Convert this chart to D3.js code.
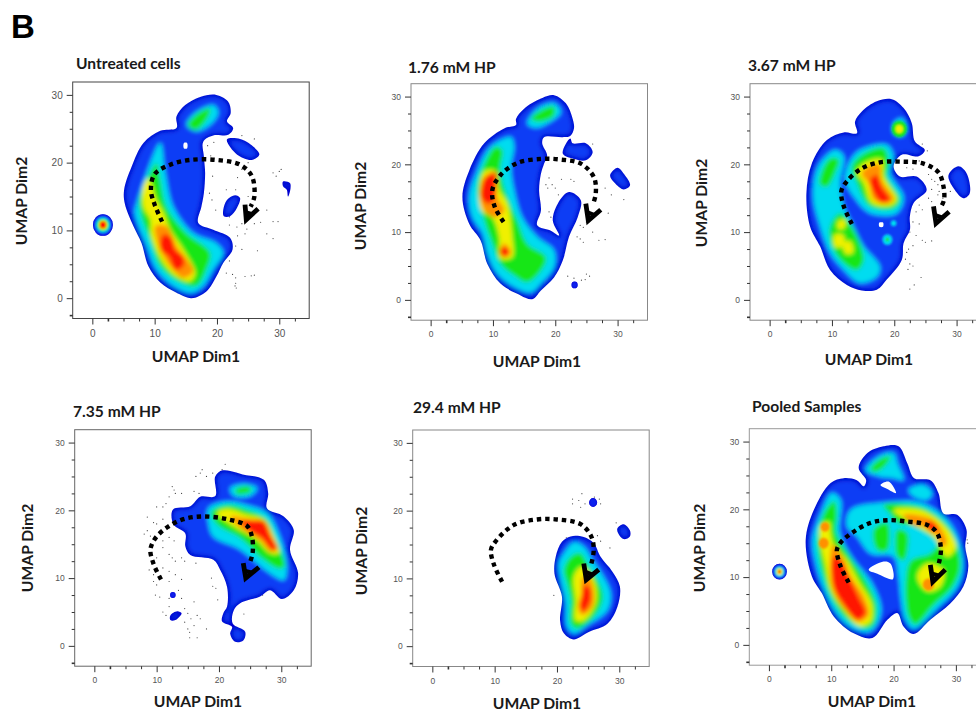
<!DOCTYPE html>
<html>
<head>
<meta charset="utf-8">
<title>UMAP density panels</title>
<style>
html, body { margin: 0; padding: 0; background: #fff; overflow: hidden; }
svg { display: block; }
</style>
<script src="https://d3js.org/d3.v7.min.js"></script>
</head>
<body>
<script>

// density outlines per panel, in UMAP units
const untreatedOuter = [
  [[13.5,26.8],[14.9,28.5],[17.3,29.7],[19.9,30],[21.8,29],[22.2,27.3],[21.6,26.1],[22.6,25.1],[21.8,24.1],[19.4,24],[17.8,23.1],[17.9,20.9],[18.1,18.5],[17.9,15.5],[17.5,13.5],[17,11.1],[19.4,10.1],[22.1,8.9],[22.5,7.2],[21,5.2],[19.9,3.2],[18.3,1],[15.9,0],[13.5,0.8],[10.9,2.3],[9,4.7],[7.9,8.1],[6.6,10.6],[5.2,14],[5.1,16],[6.3,19.4],[8.2,22.9],[10.9,24.7],[13.5,25.1]],
  [[21.6,23.4],[23.7,23.5],[25.8,22.4],[26.8,21.2],[25.6,20.4],[23.2,21.2]],
  [[21,13],[21.6,14.5],[22.9,15.2],[23.7,14.8],[23.2,13.3],[22.1,12.1],[21.1,12.1]],
  [[30.6,17.2],[31.7,17],[31.8,16.2],[31.4,15],[31.2,16],[30.6,16.5]]
];
const untreatedCyan = [
  [[7.1,14],[8.7,18.5],[10.9,22.9],[11.7,18.5],[13,13.5],[16.2,9.6],[19.9,8.1],[21,6.7],[19.4,4.2],[17.8,1.8],[15.9,0.8],[13,1.8],[10.3,4.2],[8.7,7.7],[6.8,12.6]],
  [[15.1,25.6],[16.7,27.5],[19.4,28.5],[20.2,27.5],[19.4,26],[16.7,24.6]]
];
const untreatedGreen = [
  [[7.6,14.5],[9.3,18.5],[10.3,19.9],[10.9,17.5],[11.9,13.5],[15.1,9.6],[18.9,6.7],[18.3,4.2],[16.7,1.8],[14.1,2.3],[10.9,4.7],[9.3,8.6],[7.9,12]],
  [[15.4,25.6],[17.3,27.5],[18.9,28],[18.3,26.3],[16.5,24.8]]
];
const untreatedYellow = [
  [[8.2,16.5],[9,17.7],[10.3,14.5],[11.4,12.6],[12.5,10.1],[14.6,7.2],[16.5,3.7],[15.7,2.5],[13.5,3.2],[11.4,5.2],[9.5,9.1],[9.3,11.6],[8.2,13.5]]
];
const untreatedOrange = [
  [[10.1,10.6],[11.9,10.6],[13.5,7.7],[16.2,4],[14.6,3],[12.5,4.7],[10.9,7.2]]
];
const untreatedRed = [
  [[11.4,9.4],[12.7,8.9],[13.3,7.2],[14.6,6.2],[14.6,4.7],[13.3,4.2],[12.2,6.2],[10.9,7.2]]
];
const untreatedSpots = [[0,1.7,10.8,1.6],[1,1.7,10.8,1.15],[2,1.7,10.8,0.9],[3,1.7,10.8,0.7],[5,1.7,10.8,0.5]];
const untreatedHoles = [[[14.7,22.9],[15.2,22.9],[15.2,22.1],[14.7,22.1]]];
const untreatedArc = [[11.2,11.3],[10,13.8],[9.4,16],[10,18.3],[12.5,19.7],[15.7,20.4],[19.9,20.4],[23.7,19.7],[25.6,18],[26,15],[25.4,13.5]];
const untreatedArrow = [[24.5,13.8],[24.7,11.6],[26.6,13.2]];
const untreatedDots = [[18.5,22.5],[19,21],[19.5,23],[24,24],[26,23.5],[25,20],[24,19],[23.3,17.8],[19.3,18],[18.8,15.5],[19.2,14.5],[19.8,13],[21.5,16],[23,16],[25,15],[22,12],[24,11],[27,11.2],[26,11],[28,13],[29,11.3],[22,10.8],[23.2,10.5],[24.8,10.2],[23.3,9.2],[24.5,9.5],[28,9.5],[29,8.8],[23,7.7],[24,7.2],[26.5,7],[22,5.5],[21.5,3.7],[22.5,3.5],[23,3],[24.5,3.2],[25.5,3.3],[26,3.4],[23,2.2],[22.9,1.8],[23.1,1.5],[29,18.5],[29.5,18],[30,18.7],[30.3,19],[29.8,11.3]];

const hp176Outer = [
  [[13.7,26.7],[15,28.2],[17.7,29.7],[19.8,30.2],[21.7,29],[22.8,26.7],[23,25.3],[22.4,24.2],[21.2,24],[18.2,24],[17.9,23.1],[18.7,21.3],[18.2,20.1],[17.7,18.6],[17.4,16.2],[17.7,13.2],[17.1,11],[19.3,10.2],[20.6,9.5],[19.6,11.7],[20.4,14.2],[22.2,15.9],[24.1,14.7],[23.6,12.2],[22.2,9.3],[21.2,5.8],[19.8,3.3],[17.7,1.4],[16.3,0.1],[13.9,0.9],[11.2,2.4],[9.1,5.3],[8,8.8],[6.2,11.2],[5.1,15.2],[6.2,19.1],[8.6,23.1],[11.8,25.3],[13.7,25.8]],
  [[21.2,21.6],[22.4,23.8],[22.8,23.1],[24.9,23.1],[26,21.8],[24.9,20.6],[23,20.8]],
  [[28.8,18.4],[30,19.5],[31,18.6],[32,16.9],[31,16.3],[29.7,17.1]]
];
const hp176Cyan = [
  [[6.2,15.2],[7.5,19.1],[9.6,22.6],[12.9,24],[13.4,22.6],[12.9,19.6],[13.4,16.2],[14.7,12.2],[17.1,9.3],[19.8,7.3],[19.8,4.8],[17.7,2.4],[16.1,1.1],[13.4,1.9],[10.7,3.8],[9.1,6.8],[8.3,9.8],[6.7,12.2]],
  [[15.5,26],[17.1,28.2],[19.8,29],[20.9,27.7],[18.7,26],[16.9,25.4]]
];
const hp176Green = [
  [[7.5,16.6],[8.6,20.1],[10.4,22.6],[11.5,22.1],[11.2,19.1],[12.3,15.2],[13.9,11.7],[15.5,8.3],[18.5,6.3],[17.7,4.3],[15.5,2.6],[13.4,3.6],[11.2,5.3],[9.9,8.3],[8.6,11.7]],
  [[16.1,26.7],[17.7,28],[19.8,28.5],[19.8,27.2],[17.7,26.3]]
];
const hp176Yellow = [
  [[7.8,15.7],[8.6,18.9],[10.2,19.1],[11,16.2],[12.3,14.2],[13.1,9.3],[13.1,6.3],[11.2,6.1],[11,9.3],[9.9,12.2],[8.2,13.2]]
];
const hp176Orange = [
  [[8,15.7],[8.6,18.1],[10.5,18.9],[10.7,15.2],[11.8,13.2],[10.4,12.2],[8.6,13.2]],
  [[11,7],[11.8,8.3],[12.9,7],[12,6.3]]
];
const hp176Red = [
  [[8,15.7],[8.8,18.1],[10.2,18.6],[10.3,15.2],[9.6,14.2],[8.3,14.7]],
  [[11.2,7.3],[12,7.8],[12.6,7],[11.8,6.3]]
];
const hp176Spots = [[0,23.1,2.2,0.5]];
const hp176Holes = [];
const hp176Arc = [[11.7,11.5],[10.3,13.7],[9.9,16.2],[11.2,18.4],[13.9,20.2],[17.7,20.8],[20.9,20.7],[24.1,20.1],[26.2,18.1],[26.5,15.7],[26,14]];
const hp176Arrow = [[24.9,14.2],[25.3,11.7],[27.3,13.3]];
const hp176Dots = [[19,18],[19.5,17],[18.5,17],[20,16.5],[20.5,15.5],[21,17.8],[22.5,17.8],[23,17.5],[18.8,16.5],[25,11.5],[24,11],[24.5,10.7],[23.5,9.3],[24,9],[24.5,8.5],[27,8.8],[28,8.9],[26,10],[28.5,12.8],[29,15.5],[31,14.8],[22,3.5],[23,3.2],[25,3.8],[24.8,3],[25.5,3.5],[24.2,2.9],[19,13],[19.3,12.2],[26,23],[25,19.5],[28,16.5]];

const hp367Outer = [
  [[13.7,26.3],[14.8,27.8],[17.2,29.3],[19.6,29.6],[21.5,28.3],[22.8,26.1],[23.3,23.4],[24.9,22.1],[23.9,21.2],[21.2,21.4],[19.9,19.7],[20.9,18.2],[23.6,18.2],[25.2,16.2],[23.1,14.3],[22.5,12.3],[22.5,10.3],[21.5,8.4],[21.2,5.9],[18.8,3],[17.2,1.5],[14.8,1.4],[12.4,2.2],[9.7,4.4],[8.1,7.9],[6.5,10.8],[5.9,15.7],[6.8,20.2],[9.2,23.6],[11.9,24.7],[14,24.6]],
  [[28.7,18.4],[30.3,19.7],[31.6,18.7],[32.1,15.7],[31.1,15],[29.5,16.5]]
];
const hp367Cyan = [
  [[7,15.2],[7.8,19.7],[10.5,22.1],[11.9,21.2],[11.3,17.2],[11.9,13.8],[13.5,10.8],[15.1,7.9],[17.7,4.9],[17.2,3.4],[14.5,2.5],[11.9,4.4],[9.7,6.9],[8.1,10.8]],
  [[12.7,20.2],[14.5,22.1],[18.8,22.9],[19.9,21.2],[19.3,18.7],[21.5,15.2],[20.4,12.8],[16.1,12.8],[13.5,15.2],[12.1,17.7]],
  [[19.9,26.1],[21.2,26.8],[22,25.3],[21.2,24.1],[19.9,24.6]]
];
const hp367Green = [
  [[8.1,18.2],[9.7,20.9],[11.1,20.7],[10.5,18.7],[9.2,16.7],[8.1,17]],
  [[9.7,10.8],[11.3,12.8],[13.5,10.3],[15.1,5.9],[14,4.4],[11.9,5.4],[10,7.9]],
  [[13.2,19.7],[15.1,21.6],[18.3,22.4],[19.1,20.2],[18.8,18.2],[20.9,14.8],[19.9,13.5],[16.1,13.8],[14,17.2]]
];
const hp367Yellow = [
  [[14,18.9],[15.6,20.4],[18,20.7],[18.3,18.2],[20.4,14.8],[19.3,13.9],[16.4,14.3],[15.1,17.2]],
  [[10.4,9.6],[11.8,9.6],[11.9,8],[10.5,7.8]],
  [[11,11.6],[12.1,11.8],[12,10.6],[11,10.4]],
  [[11.8,8.4],[13,8.6],[13.4,7],[12.2,6.8]]
];
const hp367Orange = [
  [[14.8,18.7],[16.4,19.9],[17.7,19.9],[18,17.7],[19.9,14.8],[18.8,14.2],[16.7,14.8],[15.9,17.2]]
];
const hp367Red = [
  [[16.1,17.7],[17.2,18.4],[18,16.7],[19.3,14.8],[18,14.3],[16.9,15.5]]
];
const hp367Spots = [[1,18.9,8.9,0.8],[2,18.9,8.9,0.3],[1,19.9,11.3,0.45],[2,20.8,25.2,1.2],[3,20.8,25.2,0.6]];
const hp367Holes = [[[17.6,11.4],[18.2,11.4],[18.2,10.8],[17.6,10.8]]];
const hp367Arc = [[13.2,11.2],[11.9,13.8],[11.5,16],[12.4,17.5],[14.8,19.4],[17.7,20.3],[20.9,20.4],[24.7,20.1],[27.1,18.8],[27.9,16.7],[28,14.8],[27.6,13.9]];
const hp367Arrow = [[26.3,13.8],[26.7,11.3],[28.8,13]];
const hp367Dots = [[24.5,23],[25.3,22],[24,20.5],[22,19.5],[23,19.3],[25.5,18.5],[26,17.8],[26.5,17.5],[27,17],[26,16.3],[27,15.5],[25.5,15],[26,14.5],[24,14],[24.5,13.3],[23.5,13],[23,11.5],[24,11.2],[22.5,10],[23.5,9.5],[24.5,8.8],[25,8.5],[26,8.7],[23,8],[22.3,7.5],[22,7],[21.8,6],[22.5,5.3],[23,5],[22.2,4.5],[24.3,3.3],[23.2,2.2],[22.5,1.6],[27.2,16],[27.8,15],[28,14.5],[29,16]];

const hp735Outer = [
  [[12.6,20.1],[15.4,20.6],[17,22],[19.4,22.1],[19.4,25],[20.6,25.9],[23.8,25.3],[27.2,24.5],[27.9,22.5],[27.7,20.3],[30.4,19.1],[32,17.1],[31.4,14.2],[32.7,10.7],[32,8.2],[30.1,6.9],[28.2,8.2],[26.6,7.3],[23.4,6.3],[22.4,5.3],[22.2,3.3],[24.2,2.1],[23.9,0.8],[22.6,0.6],[21.8,1.8],[22.1,2.8],[20.5,3.6],[20.7,4.8],[21.3,5.8],[21.3,8.7],[20.2,11.2],[19.1,12.7],[15.4,13.4],[14.6,14.7],[14.6,16.6],[12.7,17.9]],
  [[12.2,4.5],[13.3,5.1],[14,4.8],[13,3.8],[12.2,3.8]]
];
const hp735Cyan = [
  [[18.3,20.3],[21.3,21.3],[24.5,20.8],[27.7,19.6],[29.6,16.6],[30.9,11.7],[30.4,9.7],[27.7,11],[23.4,14.2],[19.1,16.1],[18.3,18.1]],
  [[21.8,23.3],[24,23.9],[26.1,23.3],[25,22.1],[22.4,22.1]]
];
const hp735Green = [
  [[18.8,19.8],[21.3,20.8],[24.5,20.1],[27.5,18.8],[29,16.1],[30.5,11.7],[29.6,11.4],[27.2,12.7],[23.4,15.9],[19.7,17.9]],
  [[22.6,23.1],[24.8,23.5],[25.2,22.8],[22.9,22.4]]
];
const hp735Yellow = [
  [[19.7,19.6],[21.3,20.2],[24.5,19.3],[27.2,18.6],[28.8,16.1],[29.6,13.7],[28.2,13.7],[26.1,15.6],[22.4,17.6]]
];
const hp735Orange = [
  [[21.8,19.1],[24.5,18.8],[27.2,18.4],[28.5,16.1],[29.4,14.2],[28.3,13.9],[26.6,15.6],[23.9,17.1]]
];
const hp735Red = [
  [[23.7,18.4],[25.6,18.4],[27.2,18.4],[28.2,16.4],[29.3,14.4],[28.5,14.2],[26.9,15.9],[24.8,17.1]]
];
const hp735Spots = [[0,12.6,7.5,0.45]];
const hp735Holes = [];
const hp735Arc = [[10.7,9.8],[9.5,12.1],[9,14.2],[9.8,15.9],[11.7,17.5],[14.3,18.7],[17.5,19.1],[21.3,18.7],[24.5,17.7],[25.3,16.1],[25.4,13.7],[25,12.4]];
const hp735Arrow = [[23.9,12.2],[24.3,10],[26.4,11.6]];
const hp735Dots = [[17,25.5],[17.3,26],[16.3,25],[18,25],[19,25.5],[20.5,26],[21,26.8],[12.5,23.5],[12.8,23],[13,22.5],[14,22.5],[16,22.8],[16.8,22.5],[12,22],[11.5,21],[11,20.5],[10,20.5],[8.5,19],[9.5,18.2],[11,18.7],[10,18],[8.5,17],[9,16.2],[8,16.5],[11,15.5],[12,16],[12.8,15.5],[10,13],[11,14.5],[12,13.5],[12.5,13],[13,12.5],[14,13],[14.5,12.5],[16.3,12.2],[8.8,11.2],[9.5,10.5],[11,11.5],[12,11],[13,10.5],[14,9.8],[9.5,9.5],[10,9],[12,9.5],[13.5,8.2],[9.8,7.5],[10.5,7.2],[12,7],[14,7],[16,6.5],[12,5.8],[11,5],[11.5,4.5],[14.5,5.5],[15,4.8],[15.5,4],[16.5,4.5],[17,4],[14.5,3.5],[15,2.5],[15.3,2],[15.3,1.2],[16.5,1.2],[16,3],[18,2.5],[19,8.8],[19.5,8.5],[19.8,6.8],[24,4.7],[27,7.5],[27.5,8],[18.8,10]];

const hp294Outer = [
  [[20.8,15.4],[22.2,16.2],[24.3,16.1],[25.9,15.2],[27,13.2],[28.9,11],[30.1,8.8],[29.7,5.8],[28.1,3.3],[25.1,2.1],[22.7,1],[21.1,1.9],[20.5,3.8],[20.8,7.3],[19.6,10.7],[19.8,13.2]],
  [[29.7,17.4],[30.7,18],[31.7,17.1],[31.7,16.2],[30.7,15.8],[29.8,16.7]]
];
const hp294Cyan = [
  [[21.1,13.7],[22.7,15.3],[24.3,14.7],[25.7,12.7],[27.5,10.2],[28.6,7.8],[28.1,5.3],[24.9,3.1],[22.7,1.9],[21.6,2.9],[21.4,6.3],[20.6,9.8],[20.3,12.2]]
];
const hp294Green = [
  [[21.1,11.2],[22.2,13.2],[23.8,13.7],[25.1,11.7],[27,8.8],[27.3,6.8],[25.9,4.3],[23.2,2.6],[22.2,3.4],[22.2,6.8],[21.6,9.3]]
];
const hp294Yellow = [
  [[22.7,10.2],[23.8,11.7],[24.9,11.2],[26.2,8.8],[26.2,6.3],[24.3,3.8],[23,3.8],[23,6.8]]
];
const hp294Orange = [
  [[24,10],[25.1,10.2],[25.9,8.3],[25.7,5.8],[24,4.6],[23.4,5.8],[23.9,7.8]]
];
const hp294Red = [
  [[24.3,8.8],[25.1,8.8],[25.4,6.8],[24.3,5.1],[23.7,5.8],[24,7.4]]
];
const hp294Spots = [[0,25.8,21.2,0.65]];
const hp294Holes = [];
const hp294Arc = [[11.2,9.5],[9.9,12],[9.4,14.2],[10.1,15.4],[13.1,17.9],[16.8,18.7],[20,18.7],[23.8,18],[25.5,16.2],[25.9,14.2],[25.5,12.1]];
const hp294Arrow = [[24.3,12.2],[24.7,9.8],[26.7,11.3]];
const hp294Dots = [[22.5,21.7],[22.5,21],[23.5,21.5],[24,22.5],[24.5,21],[23.8,20.5],[26.8,21.7],[27,21],[26,22],[29.5,18.2],[27,15.5],[28.5,14.5],[26.5,16.3],[29,8.5],[19.5,7.5],[21.5,16]];

const pooledOuter = [
  [[14.4,26.1],[15.8,28.3],[18.4,29.3],[20.8,29.3],[22.2,26.8],[23.3,24.6],[25.9,24.3],[27.2,22.4],[28,19.4],[30.2,19.2],[31.7,17],[31.5,14.5],[32,11.6],[31.2,8.6],[29.1,6.1],[25.9,3.7],[23.2,1.6],[21.6,2.7],[20.6,4.7],[19,3.7],[16.6,1],[13.6,1.7],[10.4,4.2],[8.5,7.6],[6.9,10.1],[5.9,15.5],[7.2,19.9],[9.9,23.9],[12,24.6],[14.1,24.3],[15.2,23.4],[15.6,24.3]]
];
const pooledCyan = [
  [[7,15.5],[8.3,19.4],[10.1,22.4],[11.5,21.4],[11.4,16.5],[13.3,13],[16.6,9],[18,5],[16.3,2],[13.1,2.6],[10.7,4.8],[8.8,8.2],[7.5,12]],
  [[13.1,19.9],[18.4,21],[24.3,21],[28,19],[30,16.5],[31.2,12],[30.3,8.6],[26.8,5.2],[23.2,2.4],[21.9,3.7],[21.2,6.6],[20.8,10.1],[20,13],[16.3,13.5],[14.1,16],[12.5,17.5]],
  [[15.5,25.8],[17.9,28],[20,28.3],[20.6,26.8],[21.6,24.3],[20,24.6],[17.9,24.8]],
  [[22.4,22.9],[24.8,23.6],[26.2,22.4],[25.4,21.4],[23.2,21.9]]
];
const pooledGreen = [
  [[7.9,16.5],[9.1,19.9],[10.5,21.2],[10.9,19.4],[10.8,16.5],[13,13],[15.5,9.5],[17.2,6],[16.8,3],[15.5,2.4],[12.5,3.8],[9.9,7.2],[8,13]],
  [[16.8,17],[19,18],[19,14],[17.4,14]],
  [[18.4,20.6],[24.3,20.4],[28,18.2],[29.7,16],[30.7,11.6],[29.5,8.6],[26.3,5.7],[23.5,3],[22.4,4.2],[22,10.1],[22.8,12.5],[25.9,13.5],[27,15],[23.2,17.5],[20.6,18],[19.4,19.4]],
  [[20.6,17],[22.2,16.5],[21.7,12.5],[20.6,13]],
  [[16.3,26],[18,27.5],[19.5,27.8],[18.5,26.3],[16.9,25.5]]
];
const pooledYellow = [
  [[8.3,17.5],[9.6,18.2],[9.9,16.5],[10.3,15],[12.4,12.6],[14.4,9.4],[16.5,6],[16.3,3.4],[14.5,2.8],[12,5.2],[10,8],[9,12],[8.3,15]],
  [[20,19.9],[24.3,19.9],[28,17.7],[30,14.5],[28.6,13],[26.4,16],[23.2,17.8]],
  [[23.8,10.1],[25.4,12],[28,11],[27.5,8.6],[25.4,7.9]]
];
const pooledOrange = [
  [[10.3,14.8],[12,12.6],[13.2,10],[15.2,7.2],[16,4.4],[14.4,3.4],[12.4,5],[10.4,7.8],[9.8,11]],
  [[21.6,19.2],[26.4,18.4],[28.6,15],[27.8,14.5],[26.2,17.2],[23.2,17.7]]
];
const pooledRed = [
  [[10.4,13],[11.6,12.4],[12.6,10.5],[14.4,7.1],[15.5,4.7],[14.2,3.7],[11.8,6.2],[10.4,8.6]],
  [[25.6,18.2],[27,17.5],[26.7,16.5],[25.1,17.5]]
];
const pooledSpots = [[0,1.7,10.8,1.17],[1,1.7,10.8,0.8],[3,1.7,10.8,0.5],[5,1.7,10.8,0.25],[4,9,17.4,0.7],[4,8.8,15,0.8],[4,25.6,8.9,0.9]];
const pooledHoles = [
  [[17.9,23.6],[19.2,24.1],[20.4,22.4],[19,23]],
  [[16,11.1],[18.4,12.3],[19.5,12],[19.9,9.7],[17.4,10.5]]
];
const pooledArc = [[12.8,9.2],[11.5,11.6],[10.9,14],[11.5,15.1],[13.6,16.7],[16.3,18],[19,18.4],[22.2,18.2],[25.4,17.7],[27,16.5],[27.6,14],[27.2,11.8]];
const pooledArrow = [[25.9,11.8],[26.3,9.3],[28.3,11.1]];
const pooledDots = [[31.8,15.5],[31.9,15]];

const titles = ["Untreated cells", "1.76 mM HP", "3.67 mM HP", "7.35 mM HP", "29.4 mM HP", "Pooled Samples"];
const majorTicks = [0, 10, 20, 30];
const minorTicks = [2.5, 5, 7.5, 12.5, 15, 17.5, 22.5, 25, 27.5, 32.5];
const minorTicksY = [-2.5, 2.5, 5, 7.5, 12.5, 15, 17.5, 22.5, 25, 27.5];

// frame corner and label spots on the page
const layout = [
  { left: 72.7, top: 82, titleX: 76, titleY: 65, dim1X: 196, dim1Y: 358, dim2X: 23, dim2Y: 201, tickFont: 10, frame: "#444" },
  { left: 411, top: 83.7, titleX: 408, titleY: 69, dim1X: 537, dim1Y: 363, dim2X: 362, dim2Y: 206, tickFont: 8.5, frame: "#888" },
  { left: 750, top: 83.7, titleX: 748, titleY: 67, dim1X: 869, dim1Y: 361, dim2X: 703, dim2Y: 203, tickFont: 8.5, frame: "#888" },
  { left: 74.7, top: 429.7, titleX: 73, titleY: 413, dim1X: 198, dim1Y: 703, dim2X: 29, dim2Y: 548, tickFont: 8.5, frame: "#666" },
  { left: 412.7, top: 430, titleX: 413, titleY: 409, dim1X: 537, dim1Y: 705, dim2X: 363, dim2Y: 551, tickFont: 8.5, frame: "#888" },
  { left: 749.3, top: 428.7, titleX: 752, titleY: 408, dim1X: 872, dim1Y: 703, dim2X: 701, dim2Y: 548, tickFont: 8.5, frame: "#999" }
];

const panels = [
  { outer: untreatedOuter, bands: [untreatedCyan, untreatedGreen, untreatedYellow, untreatedOrange, untreatedRed], spots: untreatedSpots, holes: untreatedHoles, arc: untreatedArc, arrow: untreatedArrow, dots: untreatedDots },
  { outer: hp176Outer, bands: [hp176Cyan, hp176Green, hp176Yellow, hp176Orange, hp176Red], spots: hp176Spots, holes: hp176Holes, arc: hp176Arc, arrow: hp176Arrow, dots: hp176Dots },
  { outer: hp367Outer, bands: [hp367Cyan, hp367Green, hp367Yellow, hp367Orange, hp367Red], spots: hp367Spots, holes: hp367Holes, arc: hp367Arc, arrow: hp367Arrow, dots: hp367Dots },
  { outer: hp735Outer, bands: [hp735Cyan, hp735Green, hp735Yellow, hp735Orange, hp735Red], spots: hp735Spots, holes: hp735Holes, arc: hp735Arc, arrow: hp735Arrow, dots: hp735Dots },
  { outer: hp294Outer, bands: [hp294Cyan, hp294Green, hp294Yellow, hp294Orange, hp294Red], spots: hp294Spots, holes: hp294Holes, arc: hp294Arc, arrow: hp294Arrow, dots: hp294Dots },
  { outer: pooledOuter, bands: [pooledCyan, pooledGreen, pooledYellow, pooledOrange, pooledRed], spots: pooledSpots, holes: pooledHoles, arc: pooledArc, arrow: pooledArrow, dots: pooledDots }
];

// index 0 is the body of the density, the rest go with bands
const levelColors = ["#0a3cf5", "#00dcf0", "#14e614", "#f0f000", "#ff9000", "#ff1400"];

const size = 236.5;
const labelFont = "Lato, 'Open Sans', sans-serif";

let svg = d3.select("body").append("svg").attr("width", 976).attr("height", 715);
let defs = svg.append("defs");

const makeBlur = (id, amount) => {
  defs.append("filter").attr("id", id)
    .attr("filterUnits", "userSpaceOnUse").attr("x", 0).attr("y", 0).attr("width", 976).attr("height", 715)
    .append("feGaussianBlur").attr("stdDeviation", amount);
};
makeBlur("soft", 2.3);
makeBlur("tight", 1.1);
makeBlur("edge", 0.5);

svg.append("text").text("B")
  .attr("x", 11).attr("y", 38)
  .style("font", "bold 33px 'Liberation Sans', Arial, sans-serif");

panels.forEach((p, i) => {
  let l = layout[i];
  let x = d3.scaleLinear().domain([-3.15, 34.8]).range([l.left, l.left + size]);
  let y = d3.scaleLinear().domain([-3, 31.9]).range([l.top + size, l.top]);

  let closed = d3.line().x(d => x(d[0])).y(d => y(d[1])).curve(d3.curveCatmullRomClosed.alpha(0.5));
  let open = d3.line().x(d => x(d[0])).y(d => y(d[1])).curve(d3.curveCatmullRom.alpha(0.5));
  let straight = d3.line().x(d => x(d[0])).y(d => y(d[1]));

  let g = svg.append("g").attr("class", "panel");

  // scatter under the density
  g.append("g").selectAll("circle").data(p.dots).join("circle")
    .attr("cx", d => x(d[0])).attr("cy", d => y(d[1]))
    .attr("r", 0.6).attr("fill", "#444");

  let clip = defs.append("clipPath").attr("id", "clip" + i);
  clip.selectAll("path").data(p.outer).join("path").attr("d", closed);
  clip.selectAll("ellipse").data(p.spots.filter(s => s[0] == 0)).join("ellipse")
    .attr("cx", d => x(d[1])).attr("cy", d => y(d[2]))
    .attr("rx", d => x(d[3]) - x(0)).attr("ry", d => y(0) - y(d[3]));

  let density = g.append("g").attr("filter", "url(#edge)")
    .append("g").attr("clip-path", "url(#clip" + i + ")");
  let inner = density.append("g").attr("filter", "url(#soft)");

  // solid backdrop so the blur never mixes with white
  inner.append("rect").attr("x", 0).attr("y", 0).attr("width", 976).attr("height", 715)
    .attr("fill", "#0000d0");
  inner.selectAll("path.body").data(p.outer).join("path").attr("class", "body")
    .attr("d", closed).attr("fill", levelColors[0])
    .attr("stroke", "#0000d0").attr("stroke-width", 5);

  p.bands.forEach((rings, b) => {
    inner.append("g").selectAll("path").data(rings).join("path")
      .attr("d", closed).attr("fill", levelColors[b + 1]);
  });

  // small round peaks stay sharper than the big bands
  let spots = density.append("g").attr("filter", "url(#tight)");
  spots.selectAll("ellipse").data(p.spots.slice().sort((a, b) => a[0] - b[0])).join("ellipse")
    .attr("cx", d => x(d[1])).attr("cy", d => y(d[2]))
    .attr("rx", d => x(d[3]) - x(0)).attr("ry", d => y(0) - y(d[3]))
    .attr("fill", d => d[0] == 0 ? "#0a20ee" : levelColors[d[0]]);

  g.append("g").selectAll("path").data(p.holes).join("path")
    .attr("d", closed).attr("fill", "#fff");

  // dotted path and arrow head
  g.append("path").attr("d", open(p.arc))
    .attr("fill", "none").attr("stroke", "#000")
    .attr("stroke-width", 4.4).attr("stroke-dasharray", "4.4 4");
  g.append("path").attr("d", straight(p.arrow))
    .attr("fill", "none").attr("stroke", "#000")
    .attr("stroke-width", 4.8).attr("stroke-linejoin", "miter");
  // the tip of the V is filled in
  let [a, tip, b] = p.arrow;
  g.append("path").attr("d", straight([[(a[0] + tip[0]) / 2, (a[1] + tip[1]) / 2], [(b[0] + tip[0]) / 2, (b[1] + tip[1]) / 2]]))
    .attr("stroke", "#000").attr("stroke-width", 4);

  // frame
  g.append("rect").attr("x", l.left).attr("y", l.top).attr("width", size).attr("height", size)
    .attr("fill", "none").attr("stroke", l.frame).attr("stroke-width", 1);

  // axes
  let bottom = g.append("g").attr("transform", "translate(0," + (l.top + size) + ")");
  bottom.call(d3.axisBottom(x).tickValues(minorTicks).tickSize(3).tickFormat(""));
  bottom.append("g").call(d3.axisBottom(x).tickValues(majorTicks).tickSize(6).tickPadding(5));
  let left = g.append("g").attr("transform", "translate(" + l.left + ",0)");
  left.call(d3.axisLeft(y).tickValues(minorTicksY).tickSize(3).tickFormat(""));
  left.append("g").call(d3.axisLeft(y).tickValues(majorTicks).tickSize(6).tickPadding(4));
  g.selectAll(".domain").remove();
  g.selectAll(".tick line").attr("stroke", "#333");
  bottom.select("g").selectAll(".tick line").attr("stroke-width", 1.6);
  left.select("g").selectAll(".tick line").attr("stroke-width", 1.6);
  g.selectAll(".tick text")
    .style("font", l.tickFont + "px 'Liberation Sans', Arial, sans-serif")
    .attr("fill", "#555");

  // labels
  g.append("text").text(titles[i])
    .attr("x", l.titleX).attr("y", l.titleY).attr("dominant-baseline", "middle")
    .style("font", "bold 15.6px " + labelFont).attr("fill", "#1a1a1a");
  g.append("text").text("UMAP Dim1")
    .attr("x", l.dim1X).attr("y", l.dim1Y).attr("text-anchor", "middle").attr("dominant-baseline", "middle")
    .style("font", "bold 15.7px " + labelFont).attr("fill", "#1a1a1a");
  g.append("text").text("UMAP Dim2")
    .attr("transform", "translate(" + l.dim2X + "," + l.dim2Y + ") rotate(-90)")
    .attr("text-anchor", "middle").attr("dominant-baseline", "middle")
    .style("font", "bold 15.7px " + labelFont).attr("fill", "#1a1a1a");
});

</script>
</body>
</html>
